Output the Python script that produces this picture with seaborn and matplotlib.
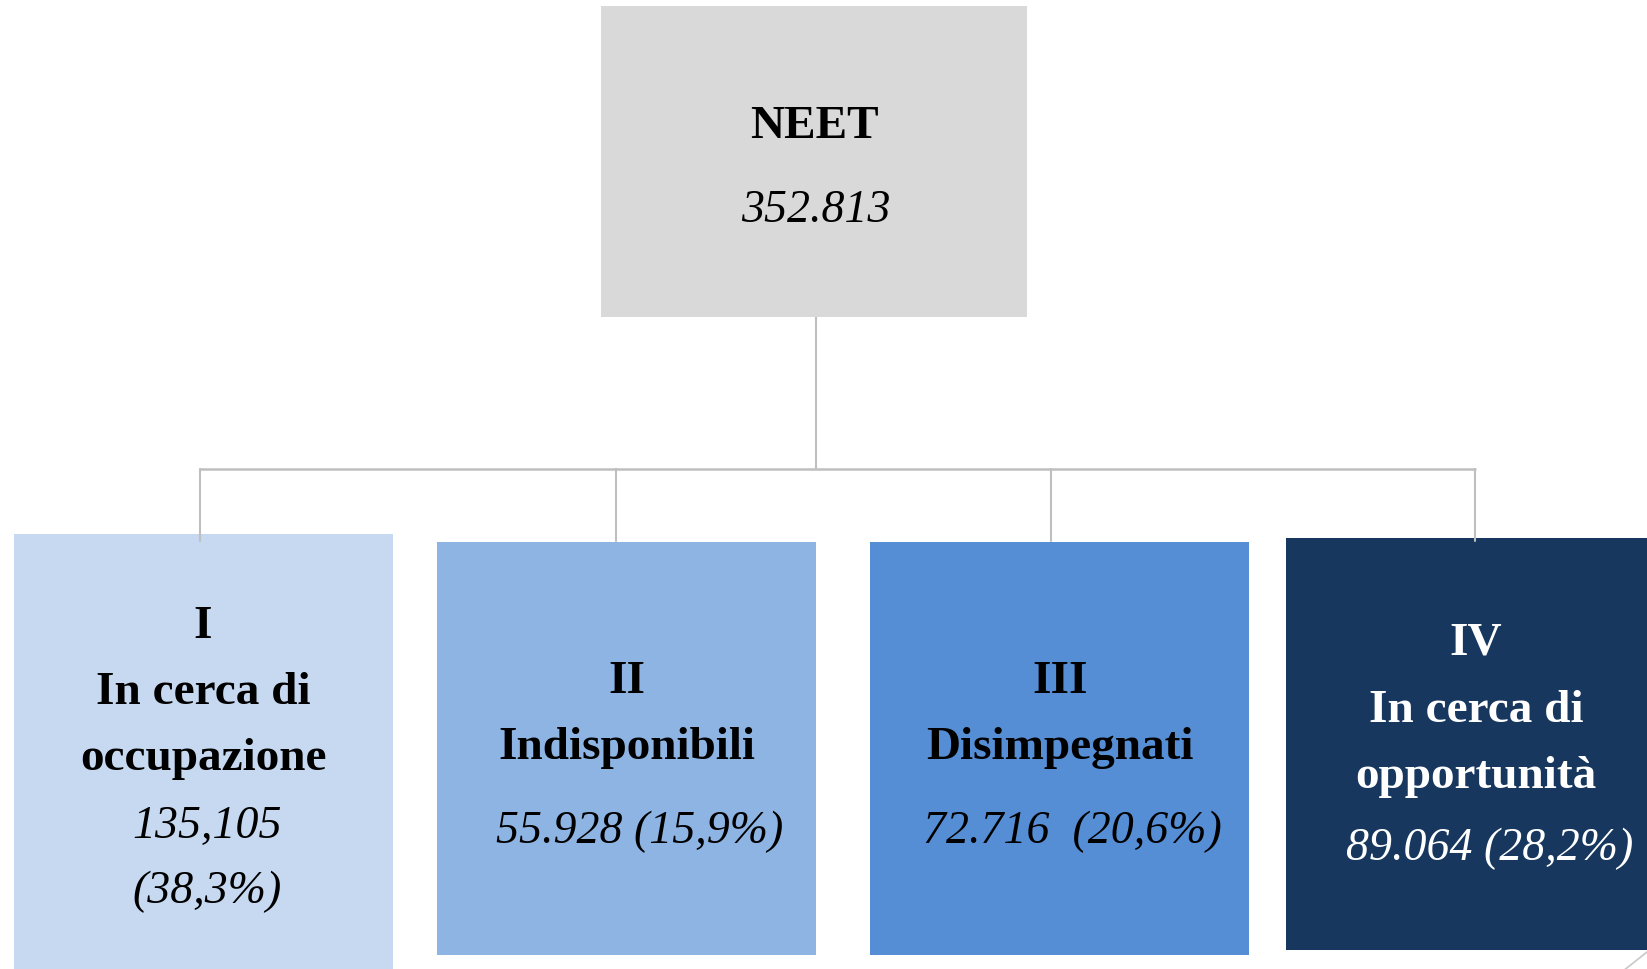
import matplotlib.pyplot as plt
import seaborn as sns

# Data: categories of NEET and their counts/shares
root_label = "NEET"
root_value = "352.813"

group_ids = ["I", "II", "III", "IV"]
group_names = ["In cerca di\noccupazione", "Indisponibili", "Disimpegnati", "In cerca di\nopportunità"]
group_values = ["135,105\n(38,3%)", "55.928 (15,9%)", "72.716  (20,6%)", "89.064 (28,2%)"]

# Layout (pixels in a 1647x970 canvas)
box_left = [14, 437, 870, 1286]
box_right = [393, 816, 1249, 1680]
box_top = [535, 543, 543, 539]
box_bottom = [975, 956, 956, 951]
text_x = [203, 627, 1060, 1476]
value_x = [207, 640, 1072, 1490]
box_colors = ["#C6D9F1", "#8EB4E3", "#558ED5", "#17375E"]
text_colors = ["black", "black", "black", "white"]
# baselines for each text line per box
line_baselines = [
    [638, 704, 770, 838, 903],
    [693, 759, 843],
    [693, 759, 843],
    [655, 722, 788, 860],
]
drop_x = [200, 616, 1051, 1475]

sns.set_theme(style="white")
plt.rcParams['font.family'] = ['Liberation Serif', 'DejaVu Serif']

fig = plt.figure(figsize=(16.47, 9.70), dpi=100)
ax = fig.add_axes([0, 0, 1, 1])
ax.set_xlim(0, 1647)
ax.set_ylim(970, 0)
ax.axis('off')

line_col = "#BFBFBF"

# connectors
ax.plot([816, 816], [318, 470], color=line_col, lw=1.5, zorder=1)
ax.plot([drop_x[0], drop_x[-1]], [470, 470], color=line_col, lw=1.8, zorder=1)
for x in drop_x:
    ax.plot([x, x], [470, 542], color=line_col, lw=1.5, zorder=2.5)

# root box
ax.bar(x=(601 + 1027) / 2, height=318 - 7, width=1027 - 601, bottom=7,
       color="#D9D9D9", edgecolor="none", zorder=2)
ax.text(814, 138, root_label, ha='center', va='baseline', fontsize=34,
        fontweight='bold', color='black', zorder=3)
ax.text(816, 222, root_value, ha='center', va='baseline', fontsize=33,
        style='italic', color='black', zorder=3)

# child boxes
for i in range(len(group_ids)):
    w = box_right[i] - box_left[i]
    ax.bar(x=box_left[i] + w / 2, height=box_bottom[i] - box_top[i], width=w,
           bottom=box_top[i], color=box_colors[i], edgecolor="none", zorder=2)
    lines = [(group_ids[i], 'bold')]
    lines += [(s, 'bold') for s in group_names[i].split("\n")]
    lines += [(s, 'italic') for s in group_values[i].split("\n")]
    for (txt, kind), y in zip(lines, line_baselines[i]):
        if kind == 'bold':
            ax.text(text_x[i], y, txt, ha='center', va='baseline', fontsize=34,
                    fontweight='bold', color=text_colors[i], zorder=3)
        else:
            ax.text(value_x[i], y, txt, ha='center', va='baseline', fontsize=33,
                    style='italic', color=text_colors[i], zorder=3)

# small decorative stroke in the bottom-right corner
ax.plot([1647, 1623], [953, 972], color="#C8C8C8", lw=1.2, zorder=1)

fig.savefig("out.png", dpi=100)
